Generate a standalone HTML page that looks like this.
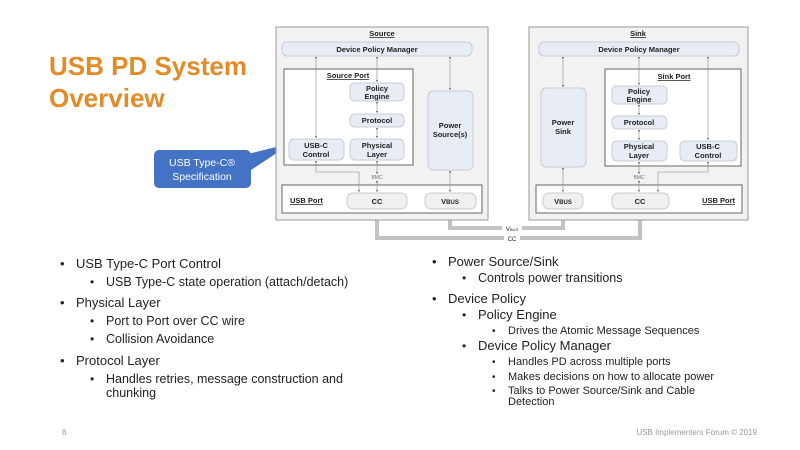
<!DOCTYPE html>
<html><head><meta charset="utf-8"><style>
html,body{margin:0;padding:0;background:#fff;}
svg{display:block;}
.d{font-family:"Liberation Sans",Arial,sans-serif;font-weight:bold;font-size:7.5px;fill:#222;}
.b{font-family:"Liberation Sans",sans-serif;fill:#222;}
</style></head><body>
<svg width="800" height="450" viewBox="0 0 800 450" xmlns="http://www.w3.org/2000/svg">
<defs>
<marker id="a" markerWidth="4" markerHeight="4" refX="2" refY="2" orient="auto"><path d="M0,0.5 L4,2 L0,3.5z" fill="#333"/></marker>
</defs>
<rect width="800" height="450" fill="#fff"/>
<text x="49" y="75" font-family="Liberation Sans,sans-serif" font-weight="bold" font-size="26" fill="#E38B26">USB PD System</text>
<text x="49" y="107" font-family="Liberation Sans,sans-serif" font-weight="bold" font-size="26" fill="#E38B26">Overview</text>
<path d="M240,156 L292,143 L248,172 Z" fill="#4472C4"/>
<rect x="154" y="150" width="97" height="38" rx="5" fill="#4472C4"/>
<text x="202" y="166" text-anchor="middle" font-family="Liberation Sans,sans-serif" font-size="10.5" fill="#fff">USB Type-C®</text>
<text x="202" y="180" text-anchor="middle" font-family="Liberation Sans,sans-serif" font-size="10.5" fill="#fff">Specification</text>

<g fill="none" stroke="#c2c2c2" stroke-width="4">
<path d="M450,209 V228 H563 V209"/>
<path d="M377,209 V238 H640 V209"/>
</g>
<rect x="502" y="224" width="20" height="8" fill="#fff"/>
<text x="512" y="231" text-anchor="middle" class="d" style="font-size:6px;font-weight:normal">V<tspan style="font-size:4px">BUS</tspan></text>
<rect x="504" y="234" width="16" height="8" fill="#fff"/>
<text x="512" y="241" text-anchor="middle" class="d" style="font-size:6px;font-weight:normal">CC</text>

<rect x="276" y="27" width="212" height="193" fill="#f2f2f2" stroke="#999" stroke-width="1"/>
<text x="382" y="36" text-anchor="middle" class="d" text-decoration="underline">Source</text>
<rect x="282" y="42" width="190" height="14" rx="5" fill="#e8ecf5" stroke="#c8ccd6"/>
<text x="377" y="52" text-anchor="middle" class="d">Device Policy Manager</text>
<rect x="284" y="69" width="129" height="96" fill="#fff" stroke="#666"/>
<text x="348" y="78" text-anchor="middle" class="d" text-decoration="underline">Source Port</text>
<rect x="350" y="83" width="54" height="18" rx="4" fill="#e8ecf5" stroke="#c8ccd6"/>
<text x="377" y="91" text-anchor="middle" class="d">Policy</text><text x="377" y="99" text-anchor="middle" class="d">Engine</text>
<rect x="350" y="114" width="54" height="13" rx="5" fill="#e8ecf5" stroke="#c8ccd6"/>
<text x="377" y="123" text-anchor="middle" class="d">Protocol</text>
<rect x="350" y="139" width="54" height="21" rx="5" fill="#e8ecf5" stroke="#c8ccd6"/>
<text x="377" y="148" text-anchor="middle" class="d">Physical</text><text x="377" y="157" text-anchor="middle" class="d">Layer</text>
<rect x="289" y="139" width="55" height="21" rx="5" fill="#e8ecf5" stroke="#c8ccd6"/>
<text x="316" y="148" text-anchor="middle" class="d">USB-C</text><text x="316" y="157" text-anchor="middle" class="d">Control</text>
<rect x="428" y="91" width="45" height="79" rx="5" fill="#e8ecf5" stroke="#c8ccd6"/>
<text x="450" y="128" text-anchor="middle" class="d">Power</text><text x="450" y="137" text-anchor="middle" class="d">Source(s)</text>
<rect x="282" y="185" width="200" height="28" fill="#fff" stroke="#666"/>
<text x="290" y="203" class="d" text-decoration="underline">USB Port</text>
<rect x="347" y="193" width="60" height="16" rx="6" fill="#f0f0f0" stroke="#ccc"/>
<text x="377" y="204" text-anchor="middle" class="d">CC</text>
<rect x="425" y="193" width="51" height="16" rx="6" fill="#f0f0f0" stroke="#ccc"/>
<text x="450" y="204" text-anchor="middle" class="d">V<tspan style="font-size:6px">BUS</tspan></text>
<rect x="369" y="174" width="16" height="7" fill="#f2f2f2"/>
<text x="377" y="179" text-anchor="middle" class="d" style="font-weight:normal;font-size:5px;fill:#777">BMC</text>
<g stroke="#888" stroke-width="0.6" fill="none" marker-start="url(#a)" marker-end="url(#a)">
<path d="M316,58 V137"/><path d="M377,58 V81"/><path d="M377,103 V112"/><path d="M377,129 V137"/>
<path d="M450,58 V89"/><path d="M450,172 V191"/><path d="M377,162 V173"/><path d="M377,182 V191"/>
</g>
<path d="M316,162 V172 H359 V191" stroke="#888" stroke-width="0.6" fill="none" marker-start="url(#a)" marker-end="url(#a)"/>

<rect x="529" y="27" width="219" height="193" fill="#f2f2f2" stroke="#999"/>
<text x="638" y="36" text-anchor="middle" class="d" text-decoration="underline">Sink</text>
<rect x="539" y="42" width="200" height="14" rx="5" fill="#e8ecf5" stroke="#c8ccd6"/>
<text x="639" y="52" text-anchor="middle" class="d">Device Policy Manager</text>
<rect x="605" y="69" width="136" height="97" fill="#fff" stroke="#666"/>
<text x="674" y="79" text-anchor="middle" class="d" text-decoration="underline">Sink Port</text>
<rect x="612" y="86" width="55" height="18" rx="4" fill="#e8ecf5" stroke="#c8ccd6"/>
<text x="639" y="94" text-anchor="middle" class="d">Policy</text><text x="639" y="102" text-anchor="middle" class="d">Engine</text>
<rect x="612" y="116" width="55" height="13" rx="5" fill="#e8ecf5" stroke="#c8ccd6"/>
<text x="639" y="125" text-anchor="middle" class="d">Protocol</text>
<rect x="612" y="141" width="55" height="20" rx="5" fill="#e8ecf5" stroke="#c8ccd6"/>
<text x="639" y="149" text-anchor="middle" class="d">Physical</text><text x="639" y="158" text-anchor="middle" class="d">Layer</text>
<rect x="680" y="141" width="57" height="20" rx="5" fill="#e8ecf5" stroke="#c8ccd6"/>
<text x="708" y="149" text-anchor="middle" class="d">USB-C</text><text x="708" y="158" text-anchor="middle" class="d">Control</text>
<rect x="541" y="88" width="45" height="79" rx="5" fill="#e8ecf5" stroke="#c8ccd6"/>
<text x="563" y="125" text-anchor="middle" class="d">Power</text><text x="563" y="134" text-anchor="middle" class="d">Sink</text>
<rect x="536" y="185" width="206" height="28" fill="#fff" stroke="#666"/>
<text x="735" y="203" text-anchor="end" class="d" text-decoration="underline">USB Port</text>
<rect x="612" y="193" width="57" height="16" rx="6" fill="#f0f0f0" stroke="#ccc"/>
<text x="640" y="204" text-anchor="middle" class="d">CC</text>
<rect x="543" y="193" width="40" height="16" rx="6" fill="#f0f0f0" stroke="#ccc"/>
<text x="563" y="204" text-anchor="middle" class="d">V<tspan style="font-size:6px">BUS</tspan></text>
<rect x="631" y="174" width="16" height="7" fill="#f2f2f2"/>
<text x="639" y="179" text-anchor="middle" class="d" style="font-weight:normal;font-size:5px;fill:#777">BMC</text>
<g stroke="#888" stroke-width="0.6" fill="none" marker-start="url(#a)" marker-end="url(#a)">
<path d="M563,58 V86"/><path d="M639,58 V84"/><path d="M639,106 V114"/><path d="M639,131 V139"/>
<path d="M708,58 V139"/><path d="M563,169 V191"/><path d="M639,163 V173"/><path d="M639,182 V191"/>
</g>
<path d="M708,163 V172 H658 V191" stroke="#888" stroke-width="0.6" fill="none" marker-start="url(#a)" marker-end="url(#a)"/>

<g class="b">
<text x="60" y="268" font-size="13">•</text><text x="76" y="268" font-size="13">USB Type-C Port Control</text>
<text x="90" y="286" font-size="12">•</text><text x="106" y="286" font-size="12.5">USB Type-C state operation (attach/detach)</text>
<text x="60" y="307" font-size="13">•</text><text x="76" y="307" font-size="13">Physical Layer</text>
<text x="90" y="325" font-size="12">•</text><text x="106" y="325" font-size="12.5">Port to Port over CC wire</text>
<text x="90" y="343" font-size="12">•</text><text x="106" y="343" font-size="12.5">Collision Avoidance</text>
<text x="60" y="365" font-size="13">•</text><text x="76" y="365" font-size="13">Protocol Layer</text>
<text x="90" y="383" font-size="12">•</text><text x="106" y="383" font-size="12.5">Handles retries, message construction and</text>
<text x="106" y="397" font-size="12.5">chunking</text>
</g>
<g class="b">
<text x="432" y="266" font-size="13">•</text><text x="448" y="266" font-size="13">Power Source/Sink</text>
<text x="462" y="282" font-size="12">•</text><text x="478" y="282" font-size="12.5">Controls power transitions</text>
<text x="432" y="303" font-size="13">•</text><text x="448" y="303" font-size="13">Device Policy</text>
<text x="462" y="319" font-size="12">•</text><text x="478" y="319" font-size="13">Policy Engine</text>
<text x="492" y="334" font-size="10">•</text><text x="508" y="334" font-size="11">Drives the Atomic Message Sequences</text>
<text x="462" y="350" font-size="12">•</text><text x="478" y="350" font-size="13">Device Policy Manager</text>
<text x="492" y="365" font-size="10">•</text><text x="508" y="365" font-size="11">Handles PD across multiple ports</text>
<text x="492" y="380" font-size="10">•</text><text x="508" y="380" font-size="11">Makes decisions on how to allocate power</text>
<text x="492" y="394" font-size="10">•</text><text x="508" y="394" font-size="11">Talks to Power Source/Sink and Cable</text>
<text x="508" y="405" font-size="11">Detection</text>
</g>
<text x="62" y="435" font-family="Liberation Sans,sans-serif" font-size="8" fill="#999">8</text>
<text x="757" y="435" text-anchor="end" font-family="Liberation Sans,sans-serif" font-size="8" fill="#999">USB Implementers Forum © 2019</text>
</svg>
</body></html>
